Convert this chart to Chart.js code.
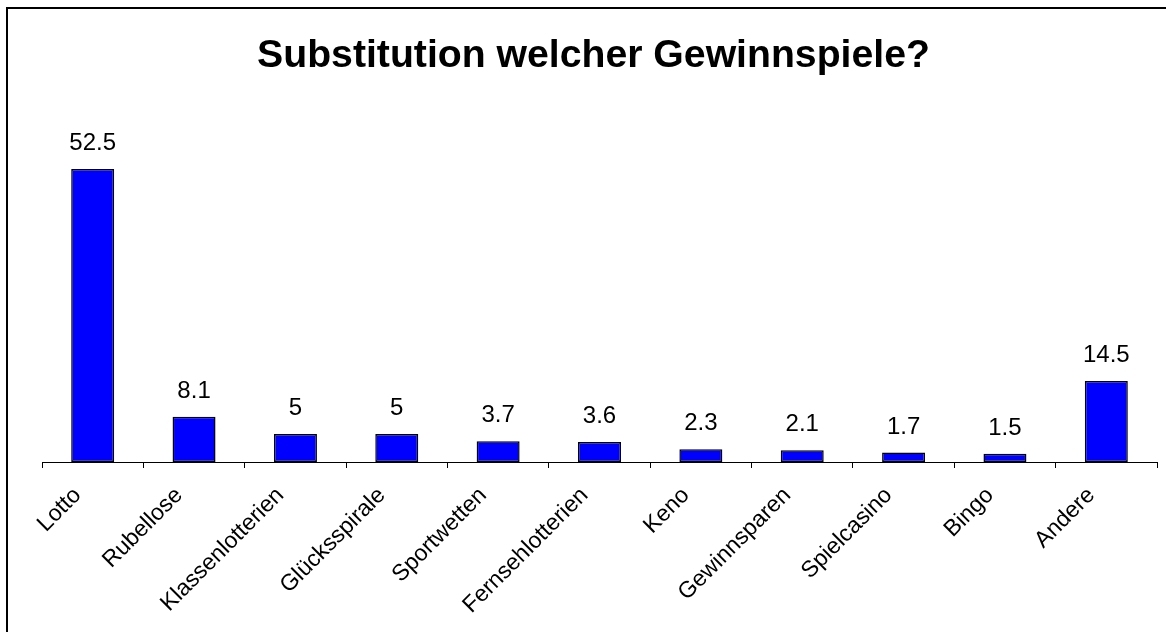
<!DOCTYPE html>
<html>
<head>
<meta charset="utf-8">
<script src="https://cdn.jsdelivr.net/npm/chart.js@4.4.0/dist/chart.umd.min.js"></script>
<style>
  html, body { margin: 0; padding: 0; background: #fff; overflow: hidden; }
  #wrap { width: 1166px; height: 632px; position: relative; }
</style>
</head>
<body>
<div id="wrap"><canvas id="c" width="1166" height="632"></canvas></div>
<script>
// daten
const categories = ['Lotto', 'Rubellose', 'Klassenlotterien', 'Glücksspirale', 'Sportwetten',
  'Fernsehlotterien', 'Keno', 'Gewinnsparen', 'Spielcasino', 'Bingo', 'Andere'];
const values = [52.5, 8.1, 5, 5, 3.7, 3.6, 2.3, 2.1, 1.7, 1.5, 14.5];
const titleText = 'Substitution welcher Gewinnspiele?';

const FONT = "'Liberation Sans', Arial, sans-serif";

// rahmen links/oben wie im original (rechts und unten abgeschnitten)
const framePlugin = {
  id: 'frame',
  afterDraw(chart) {
    const ctx = chart.ctx;
    ctx.save();
    ctx.strokeStyle = '#000';
    ctx.lineWidth = 2;
    ctx.beginPath();
    ctx.moveTo(7, chart.height);
    ctx.lineTo(7, 8);
    ctx.lineTo(chart.width, 8);
    ctx.stroke();
    ctx.restore();
  },
};

// werte ueber den balken
const valueLabels = {
  id: 'valueLabels',
  afterDatasetsDraw(chart) {
    const ctx = chart.ctx;
    const meta = chart.getDatasetMeta(0);
    ctx.save();
    ctx.fillStyle = '#000';
    ctx.font = `24px ${FONT}`;
    ctx.textAlign = 'center';
    ctx.textBaseline = 'alphabetic';
    meta.data.forEach((bar, i) => {
      ctx.fillText(String(values[i]), bar.x, bar.y - 19);
    });
    ctx.restore();
  },
};

new Chart(document.getElementById('c'), {
  type: 'bar',
  data: {
    labels: categories,
    datasets: [{
      data: values,
      backgroundColor: '#0000ff',
      borderColor: '#000',
      borderWidth: 1.5,
      borderSkipped: false,
      categoryPercentage: 1.0,
      barPercentage: 0.424,
    }],
  },
  options: {
    responsive: false,
    animation: false,
    layout: { padding: { left: 30, right: 9, top: 0, bottom: 0 } },
    plugins: {
      legend: { display: false },
      tooltip: { enabled: false },
      title: {
        display: true,
        text: titleText,
        color: '#000',
        font: { family: FONT, size: 39.2, weight: 'bold', lineHeight: 1.2 },
        padding: { top: 33, bottom: 47 },
      },
    },
    scales: {
      x: {
        offset: true,
        grid: {
          offset: true,
          drawOnChartArea: false,
          drawTicks: true,
          tickLength: 6,
          color: '#000',
          lineWidth: 1,
        },
        border: { display: true, color: '#000', width: 1 },
        ticks: {
          autoSkip: false,
          maxRotation: 45,
          minRotation: 45,
          color: '#000',
          font: { family: FONT, size: 23 },
          padding: 14,
          labelOffset: -15,
        },
        afterFit(scale) {
          scale.height = 170;
          scale.paddingLeft = 0;
          scale.paddingRight = 0;
        },
      },
      // unsichtbare y-achse, nur als platzhalter links
      y: {
        display: true,
        min: 0,
        max: 60,
        ticks: { display: false },
        grid: { display: false },
        border: { display: false },
        afterFit(scale) {
          scale.width = 12;
        },
      },
    },
  },
  plugins: [framePlugin, valueLabels],
});
</script>
</body>
</html>
